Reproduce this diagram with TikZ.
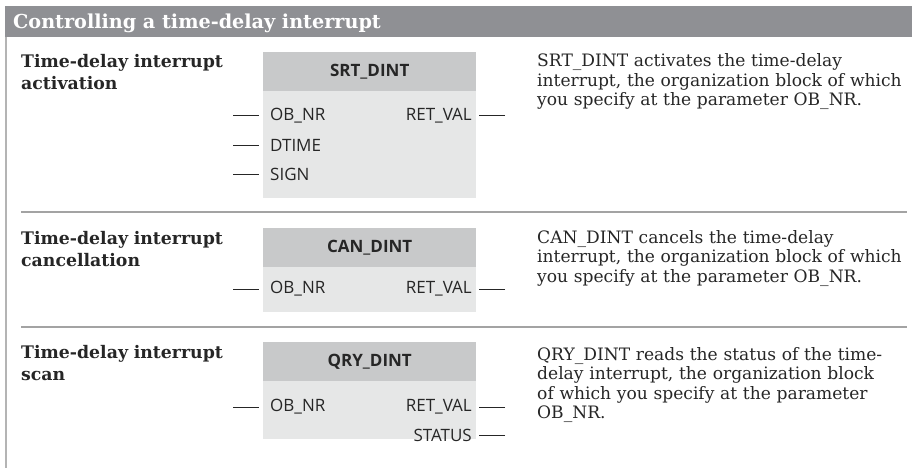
\documentclass[tikz,border=0pt]{standalone}
\usepackage{fontspec}
\setmainfont{DejaVu Serif}
\newfontfamily\pinfont{Open Sans}
\definecolor{headbar}{HTML}{8F9094}
\definecolor{cellhead}{HTML}{C8C9CA}
\definecolor{cellbody}{HTML}{E6E7E7}
\definecolor{sepline}{HTML}{A3A3A3}
\definecolor{borderline}{HTML}{B4B4B4}
\definecolor{txt}{HTML}{262626}
\begin{document}
\begin{tikzpicture}[x=1pt,y=-1pt,
  headcell/.style={anchor=north west, fill=cellhead, draw=none, minimum width=213pt, minimum height=39pt, inner sep=0pt, text=txt, font=\pinfont\bfseries\fontsize{17}{20}\selectfont},
  bodycell/.style={anchor=north west, fill=cellbody, draw=none, minimum width=213pt, inner sep=0pt},
  pinl/.style={anchor=west, inner sep=0pt, text=txt, font=\pinfont\fontsize{17}{20}\selectfont},
  pinr/.style={anchor=east, inner sep=0pt, text=txt, font=\pinfont\fontsize{17}{20}\selectfont},
  pinline/.style={draw=txt, line width=1pt},
  lab/.style={anchor=base west, align=left, text width=230pt, inner sep=0pt, text=txt, font=\bfseries\fontsize{17.3}{22}\selectfont},
  desc/.style={anchor=base west, align=left, text width=380pt, inner sep=0pt, text=txt, font=\fontsize{17.1}{19.5}\selectfont},
  sep/.style={draw=sepline, line width=1.5pt}
]
\useasboundingbox (0,0) rectangle (912,468);
\fill[white] (0,0) rectangle (912,468);
% header
\fill[headbar] (5,6) rectangle (912,37);
\draw[draw=borderline, line width=2pt] (6,37) -- (6,468);
\node[anchor=base west, inner sep=0pt, text=white, font=\bfseries\fontsize{19.2}{22}\selectfont] (title) at (13,29) {Controlling a time-delay interrupt};

% ---------- section 1
\node[lab] (t1) at (21,68) {Time-delay interrupt\\activation};
\node[headcell] (h1) at (263,52) {SRT\_DINT};
\node[bodycell, minimum height=107pt] (b1) at (263,91) {};
\node[pinl] (b1ob) at (270,116) {OB\_NR};
\node[pinl] (b1dt) at (270,145) {DTIME};
\node[pinl] (b1sg) at (270,174) {SIGN};
\node[pinr] (b1rv) at (472,116) {RET\_VAL};
\coordinate (p11) at (233,116);
\coordinate (p12) at (233,145);
\coordinate (p13) at (233,174);
\coordinate (q11) at (505,116);
\draw[pinline, shorten >=4pt] (p11) -- (p11 -| b1.west);
\draw[pinline, shorten >=4pt] (p12) -- (p12 -| b1.west);
\draw[pinline, shorten >=4pt] (p13) -- (p13 -| b1.west);
\draw[pinline, shorten >=3pt] (q11) -- (q11 -| b1.east);
\node[desc] (d1) at (537,67) {SRT\_DINT activates the time-delay\\interrupt, the organization block of which\\you specify at the parameter OB\_NR.};

\coordinate (s1a) at (21,212);
\coordinate (s1b) at (907,212);
\draw[sep] (s1a) -- (s1b);

% ---------- section 2
\node[lab] (t2) at (21,244) {Time-delay interrupt\\cancellation};
\node[headcell] (h2) at (263,228) {CAN\_DINT};
\node[bodycell, minimum height=45pt] (b2) at (263,267) {};
\node[pinl] (b2ob) at (270,289) {OB\_NR};
\node[pinr] (b2rv) at (472,289) {RET\_VAL};
\coordinate (p21) at (233,289);
\coordinate (q21) at (505,289);
\draw[pinline, shorten >=4pt] (p21) -- (p21 -| b2.west);
\draw[pinline, shorten >=3pt] (q21) -- (q21 -| b2.east);
\node[desc] (d2) at (537,243) {CAN\_DINT cancels the time-delay\\interrupt, the organization block of which\\you specify at the parameter OB\_NR.};

\coordinate (s2a) at (21,327);
\coordinate (s2b) at (907,327);
\draw[sep] (s2a) -- (s2b);

% ---------- section 3
\node[lab] (t3) at (21,358) {Time-delay interrupt\\scan};
\node[headcell] (h3) at (263,342) {QRY\_DINT};
\node[bodycell, minimum height=58pt] (b3) at (263,381) {};
\node[pinl] (b3ob) at (270,407) {OB\_NR};
\node[pinr] (b3rv) at (472,407) {RET\_VAL};
\node[pinr] (b3st) at (472,435) {STATUS};
\coordinate (p31) at (233,407);
\coordinate (q31) at (505,407);
\coordinate (q32) at (505,435);
\draw[pinline, shorten >=4pt] (p31) -- (p31 -| b3.west);
\draw[pinline, shorten >=3pt] (q31) -- (q31 -| b3.east);
\draw[pinline, shorten >=3pt] (q32) -- (q32 -| b3.east);
\node[desc] (d3) at (537,360) {QRY\_DINT reads the status of the time-\\delay interrupt, the organization block\\of which you specify at the parameter\\OB\_NR.};
\end{tikzpicture}
\end{document}
